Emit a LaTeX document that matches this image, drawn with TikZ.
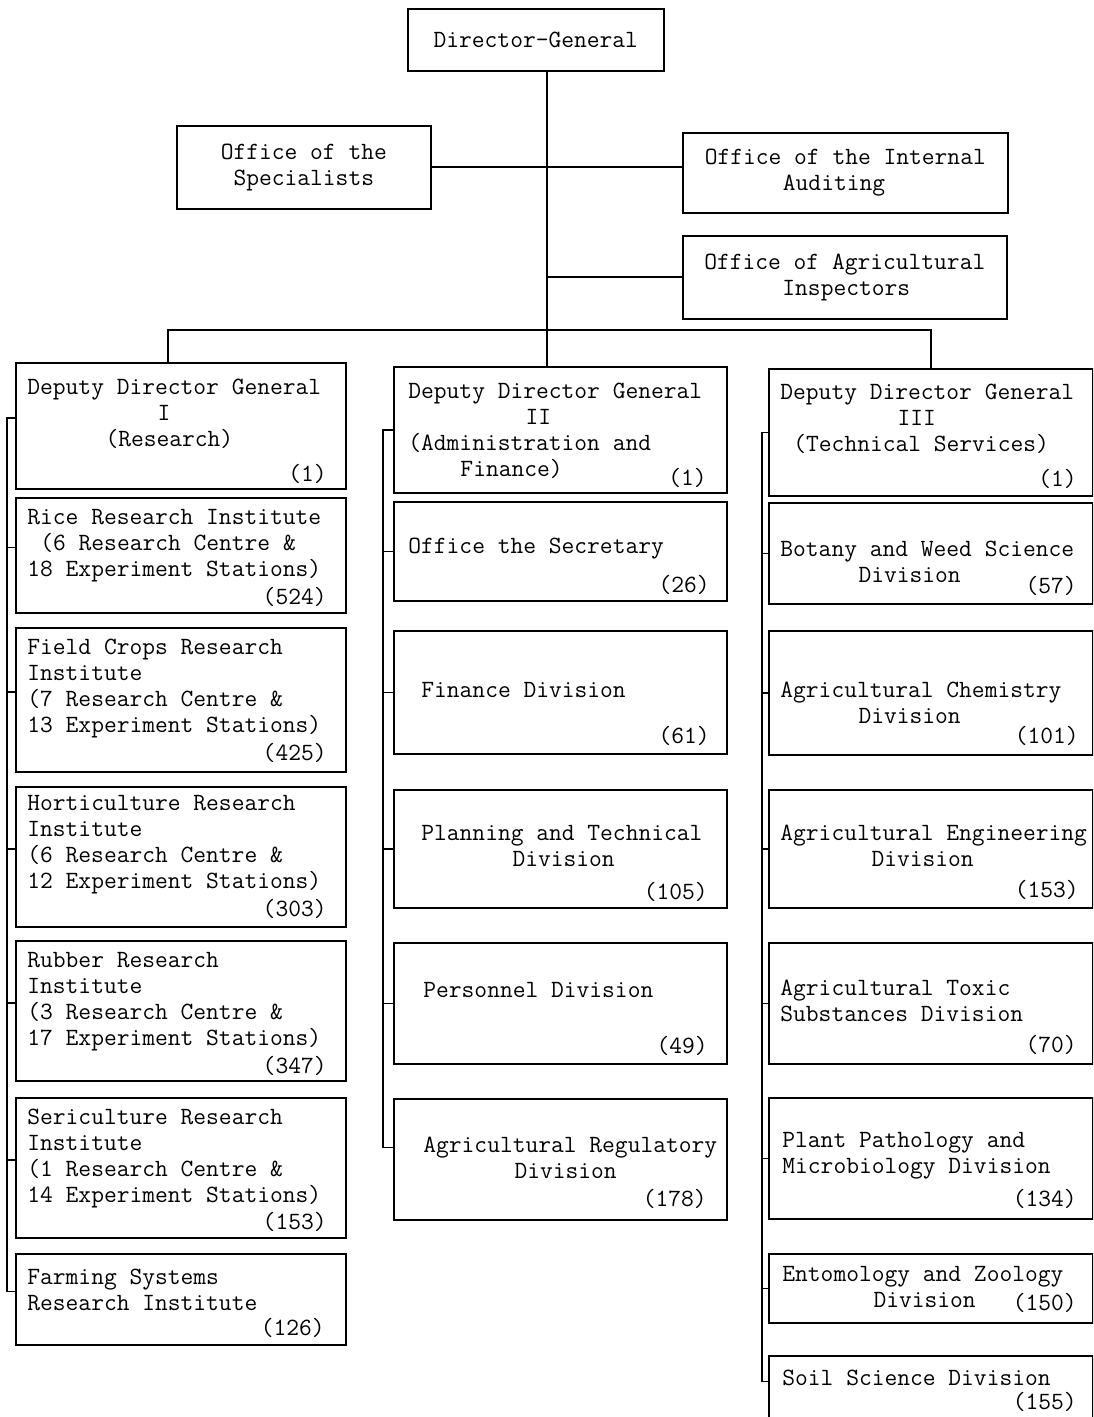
\documentclass[tikz,border=0pt]{standalone}
\usepackage{fontspec}
\usetikzlibrary{calc}

\newcommand{\orgfont}{\fontsize{12.4}{13}\selectfont\ttfamily}
\newcommand{\gap}[1]{\hspace*{#1\dimexpr0.525em\relax}}

\tikzset{
  unit/.style={draw, line width=0.8pt, anchor=north west, inner sep=0pt, font=\orgfont},
  txt/.style={anchor=west, inner sep=0pt, align=left, font=\orgfont},
  staff/.style={anchor=east, inner sep=0pt, font=\orgfont},
  link/.style={line width=0.8pt}
}

\begin{document}
\begin{tikzpicture}[x=0.5pt, y=-0.5pt]
    \clip (0,0) rectangle (1093,1417);

    \node[unit, minimum width=128pt, minimum height=31pt] (dg) at (407,8) {Director-General};
    \node[unit, minimum width=127pt, minimum height=41.5pt, align=center] (spec) at (176,125) {Office of the\\Specialists};
    \node[unit, minimum width=162.5pt, minimum height=40pt, align=left] (audit) at (682,132) {Office of the Internal\\\gap{6}Auditing};
    \node[unit, minimum width=162pt, minimum height=41.5pt, align=left] (insp) at (682,235) {Office of Agricultural\\\gap{6}Inspectors};

    \node[unit, minimum width=165pt, minimum height=63pt] (ddg1) at (15,362) {};
    \node[unit, minimum width=165pt, minimum height=57.5pt] (rice) at (15,497) {};
    \node[unit, minimum width=165pt, minimum height=72pt] (field) at (15,627) {};
    \node[unit, minimum width=165pt, minimum height=70pt] (horti) at (15,786) {};
    \node[unit, minimum width=165pt, minimum height=70pt] (rubber) at (15,940) {};
    \node[unit, minimum width=165pt, minimum height=70pt] (seri) at (15,1097) {};
    \node[unit, minimum width=165pt, minimum height=45.5pt] (farm) at (15,1253) {};

    \node[unit, minimum width=166.5pt, minimum height=63pt] (ddg2) at (393,366) {};
    \node[unit, minimum width=166.5pt, minimum height=49.5pt] (secr) at (393,501) {};
    \node[unit, minimum width=166.5pt, minimum height=61.5pt] (fin) at (393,630) {};
    \node[unit, minimum width=166.5pt, minimum height=59pt] (plan) at (393,789) {};
    \node[unit, minimum width=166.5pt, minimum height=60.5pt] (pers) at (393,942) {};
    \node[unit, minimum width=166.5pt, minimum height=60.5pt] (regu) at (393,1098) {};

    \node[unit, minimum width=162pt, minimum height=63.5pt] (ddg3) at (768,368) {};
    \node[unit, minimum width=162pt, minimum height=50.5pt] (bot) at (768,502) {};
    \node[unit, minimum width=162pt, minimum height=62pt] (chem) at (768,630) {};
    \node[unit, minimum width=162pt, minimum height=59pt] (eng) at (768,789) {};
    \node[unit, minimum width=162pt, minimum height=60.5pt] (toxic) at (768,942) {};
    \node[unit, minimum width=162pt, minimum height=60.5pt] (path) at (768,1097) {};
    \node[unit, minimum width=162pt, minimum height=34.5pt] (ento) at (768,1253) {};
    \node[unit, minimum width=162pt, minimum height=37.5pt] (soil) at (768,1355) {};

    \node[txt] (ddg1t) at (27,414) {Deputy Director General\\\gap{10}I\\\gap{6}(Research)};
    \node[staff] (ddg1n) at (327,474) {(1)};
    \node[txt] (ricet) at (27,546) {Rice Research Institute\\\gap{1}(6 Research Centre \&\\18 Experiment Stations)};
    \node[staff] (ricen) at (327,597) {(524)};
    \node[txt] (fieldt) at (27,689) {Field Crops Research\\Institute\\(7 Research Centre \&\\13 Experiment Stations)};
    \node[staff] (fieldn) at (327,753) {(425)};
    \node[txt] (hortit) at (27,845) {Horticulture Research\\Institute\\(6 Research Centre \&\\12 Experiment Stations)};
    \node[staff] (hortin) at (327,909) {(303)};
    \node[txt] (rubbert) at (27,1002) {Rubber Research\\Institute\\(3 Research Centre \&\\17 Experiment Stations)};
    \node[staff] (rubbern) at (327,1066) {(347)};
    \node[txt] (serit) at (27,1159) {Sericulture Research\\Institute\\(1 Research Centre \&\\14 Experiment Stations)};
    \node[staff] (serin) at (327,1222) {(153)};
    \node[txt] (farmt) at (27,1290) {Farming Systems\\Research Institute};
    \node[staff] (farmn) at (325,1328) {(126)};

    \node[txt] (ddg2t) at (408,431) {Deputy Director General\\\gap{9}II\\(Administration and\\\gap{4}Finance)};
    \node[staff] (ddg2n) at (707,478) {(1)};
    \node[txt] (secrt) at (408,549) {Office the Secretary};
    \node[staff] (secrn) at (710,585) {(26)};
    \node[txt] (fint) at (421,690) {Finance Division};
    \node[staff] (finn) at (710,736) {(61)};
    \node[txt] (plant) at (421,846) {Planning and Technical\\\gap{7}Division};
    \node[staff] (plann) at (708,892) {(105)};
    \node[txt] (perst) at (423,990) {Personnel Division};
    \node[staff] (persn) at (708,1046) {(49)};
    \node[txt] (regut) at (423,1158) {Agricultural Regulatory\\\gap{7}Division};
    \node[staff] (regun) at (707,1199) {(178)};

    \node[txt] (ddg3t) at (780,419) {Deputy Director General\\\gap{9}III\\\gap{1}(Technical Services)};
    \node[staff] (ddg3n) at (1077,479) {(1)};
    \node[txt] (bott) at (780,562) {Botany and Weed Science\\\gap{6}Division};
    \node[staff] (botn) at (1077,586) {(57)};
    \node[txt] (chemt) at (780,703) {Agricultural Chemistry\\\gap{6}Division};
    \node[staff] (chemn) at (1079,736) {(101)};
    \node[txt] (engt) at (780,846) {Agricultural Engineering\\\gap{7}Division};
    \node[staff] (engn) at (1079,890) {(153)};
    \node[txt] (toxict) at (780,1001) {Agricultural Toxic\\Substances Division};
    \node[staff] (toxicn) at (1077,1045) {(70)};
    \node[txt] (patht) at (782,1156) {Plant Pathology and\\Microbiology Division};
    \node[staff] (pathn) at (1077,1199) {(134)};
    \node[txt] (entot) at (782,1287) {Entomology and Zoology\\\gap{7}Division};
    \node[staff] (enton) at (1077,1303) {(150)};
    \node[txt] (soilt) at (782,1378) {Soil Science Division};
    \node[staff] (soiln) at (1077,1402) {(155)};

    \coordinate (dgfoot) at ([xshift=5.5pt]dg.south);
    \coordinate (barmid) at (546,330);
    \draw[link] (dgfoot) -- (dgfoot |- ddg2.north);
    \draw[link] (spec.east) -- (spec.east -| audit.west);
    \draw[link] (insp.west) -- (insp.west -| dgfoot);
    \draw[link] ([xshift=-6.5pt]ddg1.north) |- (barmid) -| (ddg3.north);

    \draw[link] ([yshift=4pt]ddg1.west) -- ++(-4pt,0) |- ([yshift=4pt]farm.west);
    \foreach \b in {rice, field, horti, rubber, seri}
        \draw[link] ([yshift=4pt]\b.west) -- ++(-4pt,0);

    \draw[link] (ddg2.west) -- ++(-5pt,0) |- ([yshift=6pt]regu.west);
    \foreach \b in {secr, fin, plan, pers}
        \draw[link] (\b.west) -- ++(-5pt,0);

    \draw[link] (ddg3.west) -- ++(-3pt,0) |- ([yshift=6pt]soil.west);
    \foreach \b in {bot, chem, eng, toxic, path, ento}
        \draw[link] (\b.west) -- ++(-3pt,0);
\end{tikzpicture}
\end{document}
